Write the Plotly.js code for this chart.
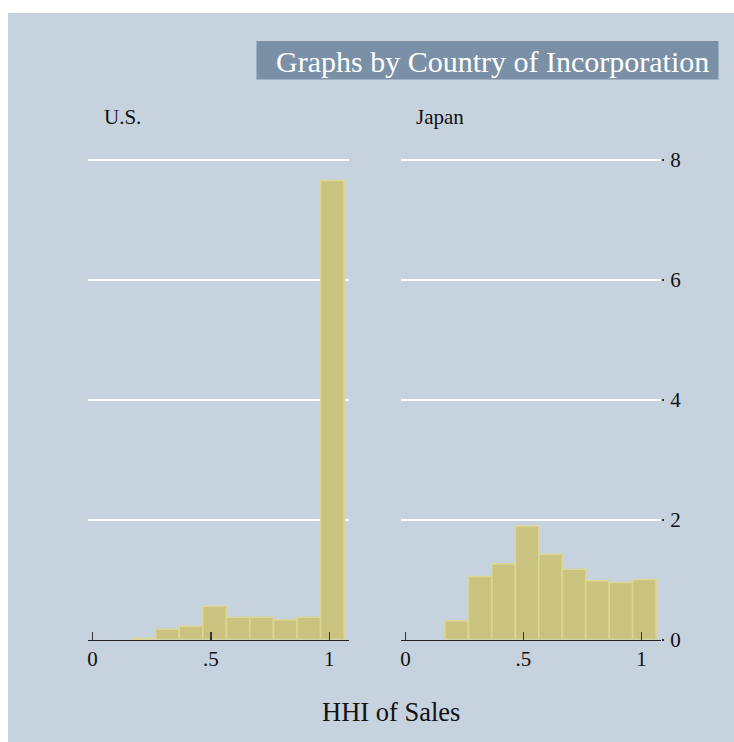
<!DOCTYPE html>
<html>
<head>
<meta charset="utf-8">
<script src="https://cdn.plot.ly/plotly-3.0.1.min.js"></script>
<style>html,body{margin:0;padding:0;background:#fff;overflow:hidden;}#chart{width:734px;height:742px;}</style>
</head>
<body>
<div id="chart"></div>
<script>
// ---- data ----
const binStart = 0.167;
const binWidth = 0.0995;
const usDensity = [0.02, 0.17, 0.22, 0.555, 0.37, 0.37, 0.33, 0.37, 7.65];
const japanDensity = [0.31, 1.05, 1.26, 1.89, 1.42, 1.17, 0.98, 0.95, 1.0];
const panelLabels = ["U.S.", "Japan"];
const xTickVals = [0, 0.5, 1];
const xTickText = ["0", ".5", "1"];
const yTickVals = [0, 2, 4, 6, 8];
const yTickText = ["0", "2", "4", "6", "8"];
const chartTitle = "Graphs by Country of Incorporation";
const xTitle = "HHI of Sales";

// ---- styling ----
const W = 734, H = 742;
const FONT = "Liberation Serif, Times New Roman, serif";
const BG = "#c6d2de";
const BAR_FILL = "#cac37f";
const BAR_LINE = "#dbd596";
const px = v => v / W;
const py = v => 1 - v / H;

const centers = usDensity.map((_, i) => binStart + (i + 0.5) * binWidth);
const widths = usDensity.map(() => binWidth);

function barTrace(y, xa, ya) {
  return {
    type: "bar", x: centers, y: y, width: widths,
    xaxis: xa, yaxis: ya,
    marker: {color: BAR_FILL, line: {color: BAR_LINE, width: 1.6}},
    hoverinfo: "skip", showlegend: false
  };
}

const data = [barTrace(usDensity, "x", "y"), barTrace(japanDensity, "x2", "y2")];

const yBottom = 639.5, pxPerUnit = 60, yMax = 8.08;
const yDomain = [py(yBottom), py(yBottom - yMax * pxPerUnit)];
const xRange = [-0.019, 1.083];

function xAxis(domain, anchor) {
  return {
    domain: domain, anchor: anchor, range: xRange,
    tickvals: xTickVals, ticktext: xTickText,
    ticks: "inside", ticklen: 8, tickwidth: 1.3, tickcolor: "#333",
    showline: true, linecolor: "#222", linewidth: 1.5,
    showgrid: false, zeroline: false,
    tickfont: {family: FONT, size: 21, color: "#111"},
    ticklabelstandoff: 0,
    fixedrange: true
  };
}
function yAxis(anchor, showLabels) {
  return {
    domain: yDomain, anchor: anchor, range: [0, yMax],
    tickvals: yTickVals, ticktext: yTickText,
    showgrid: true, gridcolor: "#ffffff", gridwidth: 2,
    zeroline: false, showline: false,
    side: "right",
    ticks: showLabels ? "outside" : "", ticklen: 2, tickwidth: 2, tickcolor: "#333",
    showticklabels: showLabels,
    tickfont: {family: FONT, size: 21, color: "#111"},
    ticklabelstandoff: 2,
    fixedrange: true
  };
}

const layout = {
  width: W, height: H,
  margin: {l: 0, r: 0, t: 0, b: 0},
  paper_bgcolor: BG, plot_bgcolor: "rgba(0,0,0,0)",
  font: {family: FONT, color: "#111"},
  bargap: 0,
  xaxis: xAxis([px(88), px(349)], "y"),
  yaxis: yAxis("x", false),
  xaxis2: xAxis([px(401), px(661)], "y2"),
  yaxis2: yAxis("x2", true),
  shapes: [
    {type: "rect", xref: "paper", yref: "paper", x0: 0, x1: px(8), y0: 0, y1: 1,
     fillcolor: "#ffffff", line: {width: 0}, layer: "below"},
    {type: "rect", xref: "paper", yref: "paper", x0: 0, x1: 1, y0: py(13), y1: 1,
     fillcolor: "#ffffff", line: {width: 0}, layer: "below"},
    {type: "rect", xref: "paper", yref: "paper", x0: px(256.5), x1: px(718.5), y0: py(79.5), y1: py(41),
     fillcolor: "#7a90a7", line: {width: 0}, layer: "below"}
  ],
  annotations: [
    {text: chartTitle, xref: "paper", yref: "paper", x: px(492), y: py(61),
     xanchor: "center", yanchor: "middle", showarrow: false,
     font: {family: FONT, size: 30, color: "#ffffff"}},
    {text: panelLabels[0], xref: "paper", yref: "paper", x: px(102), y: py(117),
     xanchor: "left", yanchor: "middle", showarrow: false,
     font: {family: FONT, size: 21, color: "#111"}},
    {text: panelLabels[1], xref: "paper", yref: "paper", x: px(414), y: py(117),
     xanchor: "left", yanchor: "middle", showarrow: false,
     font: {family: FONT, size: 21, color: "#111"}},
    {text: xTitle, xref: "paper", yref: "paper", x: px(391), y: py(712),
     xanchor: "center", yanchor: "middle", showarrow: false,
     font: {family: FONT, size: 26.5, color: "#111"}}
  ]
};

Plotly.newPlot("chart", data, layout, {staticPlot: true, displayModeBar: false});
</script>
</body>
</html>
